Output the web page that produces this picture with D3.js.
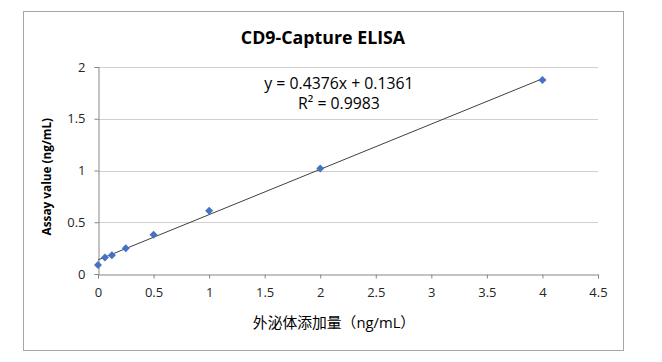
<!DOCTYPE html>
<html lang="zh">
<head>
    <meta charset="UTF-8">
    <title>CD9-Capture ELISA</title>
    <style>
        body { margin: 0; background: white; }
        svg text { font-family: "Open Sans", "Noto Sans CJK SC", sans-serif; }
    </style>
    <script src="https://d3js.org/d3.v7.min.js"></script>
</head>
<body>
<svg id="chart" width="662" height="362"></svg>
<script>
    // data
    const xValues = [0, 0.0625, 0.125, 0.25, 0.5, 1, 2, 4];
    const yValues = [0.087, 0.16, 0.18, 0.25, 0.38, 0.61, 1.02, 1.875];
    const xTicks = [0, 0.5, 1, 1.5, 2, 2.5, 3, 3.5, 4, 4.5];
    const yTicks = [0, 0.5, 1, 1.5, 2];
    const slope = 0.4376, intercept = 0.1361;
    const trendLabels = ["y = 0.4376x + 0.1361", "R² = 0.9983"];

    const svg = d3.select("#chart");

    // outer chart border
    svg.append("rect")
        .attr("x", 23.5).attr("y", 11.5)
        .attr("width", 600).attr("height", 339)
        .attr("fill", "white").attr("stroke", "#a6a6a6");

    const x = d3.scaleLinear().domain([0, 4.5]).range([98, 598]);
    const y = d3.scaleLinear().domain([0, 2]).range([274, 67]);

    // gridlines
    svg.append("g")
        .selectAll("line")
        .data(yTicks.filter(d => d > 0))
        .enter().append("line")
        .attr("x1", x(0)).attr("x2", x(4.5))
        .attr("y1", d => Math.round(y(d)) + 0.5).attr("y2", d => Math.round(y(d)) + 0.5)
        .attr("stroke", "#d0d0d0");

    // axes
    const xAxis = svg.append("g")
        .attr("transform", `translate(0,${Math.round(y(0)) + 0.5})`)
        .call(d3.axisBottom(x).tickValues(xTicks).tickSize(4).tickPadding(9).tickFormat(d3.format("")));
    const yAxis = svg.append("g")
        .attr("transform", `translate(${Math.round(x(0)) + 0.5},0)`)
        .call(d3.axisLeft(y).tickValues(yTicks).tickSize(4).tickPadding(9).tickFormat(d3.format("")));

    [xAxis, yAxis].forEach(a => {
        a.select(".domain").attr("stroke", "#868686");
        a.selectAll(".tick line").attr("stroke", "#868686");
        a.selectAll(".tick text").attr("fill", "#262626").style("font-size", "13px");
    });

    // trend line
    svg.append("line")
        .attr("x1", x(0)).attr("y1", y(intercept))
        .attr("x2", x(4)).attr("y2", y(slope * 4 + intercept))
        .attr("stroke", "#404040").attr("stroke-width", 1);

    // points (square turned 45 degrees, like Excel's diamond marker)
    const diamond = d3.symbol().type(d3.symbolSquare).size(32);
    svg.append("g")
        .selectAll("path")
        .data(xValues.map((d, i) => [d, yValues[i]]))
        .enter().append("path")
        .attr("d", diamond)
        .attr("transform", d => `translate(${x(d[0])},${y(d[1])}) rotate(45)`)
        .attr("fill", "#4472c4");

    // title
    svg.append("text")
        .attr("x", 323).attr("y", 44)
        .attr("text-anchor", "middle")
        .style("font-size", "17.8px").style("font-weight", "bold")
        .attr("fill", "#000")
        .text("CD9-Capture ELISA");

    // equation
    svg.append("g")
        .selectAll("text")
        .data(trendLabels)
        .enter().append("text")
        .attr("x", 339).attr("y", (d, i) => 88.5 + i * 20)
        .attr("text-anchor", "middle")
        .style("font-size", "15.8px")
        .attr("fill", "#000")
        .text(d => d);

    // axis titles
    svg.append("text")
        .attr("transform", `translate(51,${y(0.94)}) rotate(-90)`)
        .attr("text-anchor", "middle")
        .style("font-size", "11.8px").style("font-weight", "bold")
        .text("Assay value (ng/mL)");

    svg.append("text")
        .attr("x", 334).attr("y", 328)
        .attr("text-anchor", "middle")
        .style("font-size", "14.8px")
        .text("外泌体添加量（ng/mL）");
</script>
</body>
</html>
